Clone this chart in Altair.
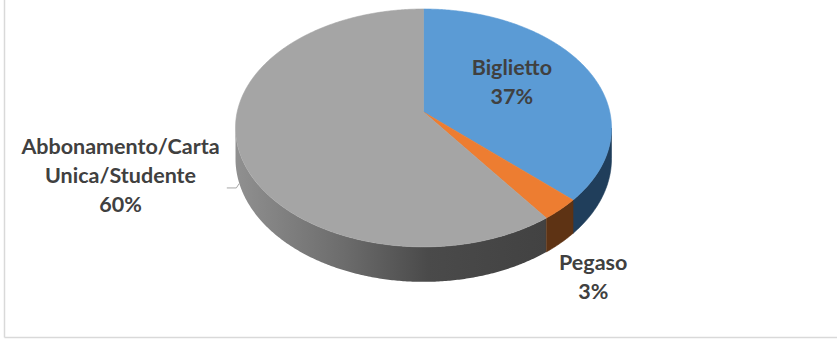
import altair as alt
import numpy as np
import pandas as pd

# ---------------- data ----------------
categories = ["Biglietto", "Pegaso", "Abbonamento/Carta Unica/Studente"]
values = [37, 3, 60]
label_names = [["Biglietto"], ["Pegaso"], ["Abbonamento/Carta", "Unica/Studente"]]

# ---------------- style / layout ----------------
top_colors = ["#5b9bd5", "#ed7d31", "#a5a5a5"]
side_colors = ["#203e5b", "#5e3314", "#6a6a6a"]
text_color = "#404040"
font = "Lato"
font_size = 21.5
line_h = 29

# pseudo-3D perspective parameters (pixels)
CX, CY = 423.5, 112.0      # apex of the slices on screen
K, KB = 186.3, 116.8       # horizontal / vertical radius scale
A = 0.134                  # perspective strength
T = 30.3                   # thickness of the disc
SIL = float(np.degrees(np.arccos(-A)))  # silhouette angle of the side wall

# label placement (radius, angle shift) per slice
label_r = [0.55, 1.42, 1.6]
label_dth = [-3.6, 8.8, -1.0]


def pt(r, th, depth=0.0):
    t = np.radians(th)
    X, Y = r * np.sin(t), r * np.cos(t)
    d = 1 + A * Y
    return [float(K * X / d), float((-KB * Y + T * depth) / d)]


def arc(t0, t1, depth=0.0):
    n = max(2, int(np.ceil((t1 - t0) / 0.5)) + 1)
    return [pt(1, t, depth) for t in np.linspace(t0, t1, n)]


total = float(sum(values))
cum = np.concatenate([[0.0], np.cumsum(values)]) / total * 360.0

top_feats, side_feats = [], []
for i, cat in enumerate(categories):
    t0, t1 = float(cum[i]), float(cum[i + 1])
    ring = [pt(0, 0)] + arc(t0, t1) + [pt(0, 0)]
    top_feats.append({"type": "Feature",
                      "properties": {"name": cat, "fill": top_colors[i]},
                      "geometry": {"type": "Polygon", "coordinates": [ring]}})
    a0, a1 = max(t0, SIL), min(t1, 360 - SIL)
    if a1 > a0:
        up = arc(a0, a1, 0.0)
        lo = arc(a0, a1, 1.0)[::-1]
        ring = up + lo + [up[0]]
        side_feats.append({"type": "Feature",
                           "properties": {"name": cat, "fill": side_colors[i]},
                           "geometry": {"type": "Polygon", "coordinates": [ring]}})

# labels
rows = []
for i, cat in enumerate(categories):
    lines = label_names[i] + [f"{round(values[i] / total * 100)}%"]
    mid = (cum[i] + cum[i + 1]) / 2 + label_dth[i]
    cx, cy = pt(label_r[i], mid)
    n = len(lines)
    for j, s in enumerate(lines):
        rows.append({"text": s, "lon": cx, "lat": cy + (j - (n - 1) / 2) * line_h})
labels = pd.DataFrame(rows)

# leader line for the big slice
gmid = (cum[2] + cum[3]) / 2 - 1
p0 = pt(1, gmid, 1.0)
p1 = [p0[0] - 3, p0[1] + 4.5]
p2 = [p1[0] - 9.5, p1[1]]
leader = [{"type": "Feature", "properties": {"name": "leader"},
           "geometry": {"type": "LineString", "coordinates": [p0, p1, p2]}}]

proj = dict(type="identity", scale=1, translate=[CX, CY])

gray_side = [f for f in side_feats if f["properties"]["name"] == categories[2]]
dark_side = [f for f in side_feats if f["properties"]["name"] != categories[2]]

sides_dark = alt.Chart(alt.Data(values=dark_side)).mark_geoshape(strokeWidth=0.6).encode(
    color=alt.Color("properties.fill:N", scale=None),
    stroke=alt.Stroke("properties.fill:N", scale=None),
).project(**proj)

grad = alt.LinearGradient(
    gradient="linear", x1=0, x2=1, y1=0, y2=0,
    stops=[alt.GradientStop(color="#909090", offset=0),
           alt.GradientStop(color="#6c6c6c", offset=0.35),
           alt.GradientStop(color="#4a4a4a", offset=0.62),
           alt.GradientStop(color="#424242", offset=1)],
)
sides_gray = alt.Chart(alt.Data(values=gray_side)).mark_geoshape(fill=grad, strokeWidth=0).project(**proj)

tops = alt.Chart(alt.Data(values=top_feats)).mark_geoshape(strokeWidth=0.6).encode(
    color=alt.Color("properties.fill:N", scale=None),
    stroke=alt.Stroke("properties.fill:N", scale=None),
).project(**proj)

lead = alt.Chart(alt.Data(values=leader)).mark_geoshape(
    filled=False, stroke="#a6a6a6", strokeWidth=1).project(**proj)

text = alt.Chart(labels).mark_text(
    font=font, fontWeight="bold", fontSize=font_size, color=text_color,
    align="center", baseline="middle",
).encode(longitude="lon:Q", latitude="lat:Q", text="text:N").project(**proj)

frame_df = pd.DataFrame({"k": [0]})
left_border = alt.Chart(frame_df).mark_rule(color="#d9d9d9", strokeWidth=1.5).encode(
    x=alt.value(4.5), y=alt.value(0), y2=alt.value(337.5))
bottom_border = alt.Chart(frame_df).mark_rule(color="#d9d9d9", strokeWidth=1.5).encode(
    x=alt.value(4.5), x2=alt.value(837), y=alt.value(337.5))

chart = alt.layer(sides_gray, sides_dark, tops, lead, text, left_border, bottom_border).properties(
    width=837, height=340, padding=0, autosize="none", background="white",
).configure_view(stroke=None)

chart.save("out.html", embed_options={"renderer": "svg", "actions": False})
